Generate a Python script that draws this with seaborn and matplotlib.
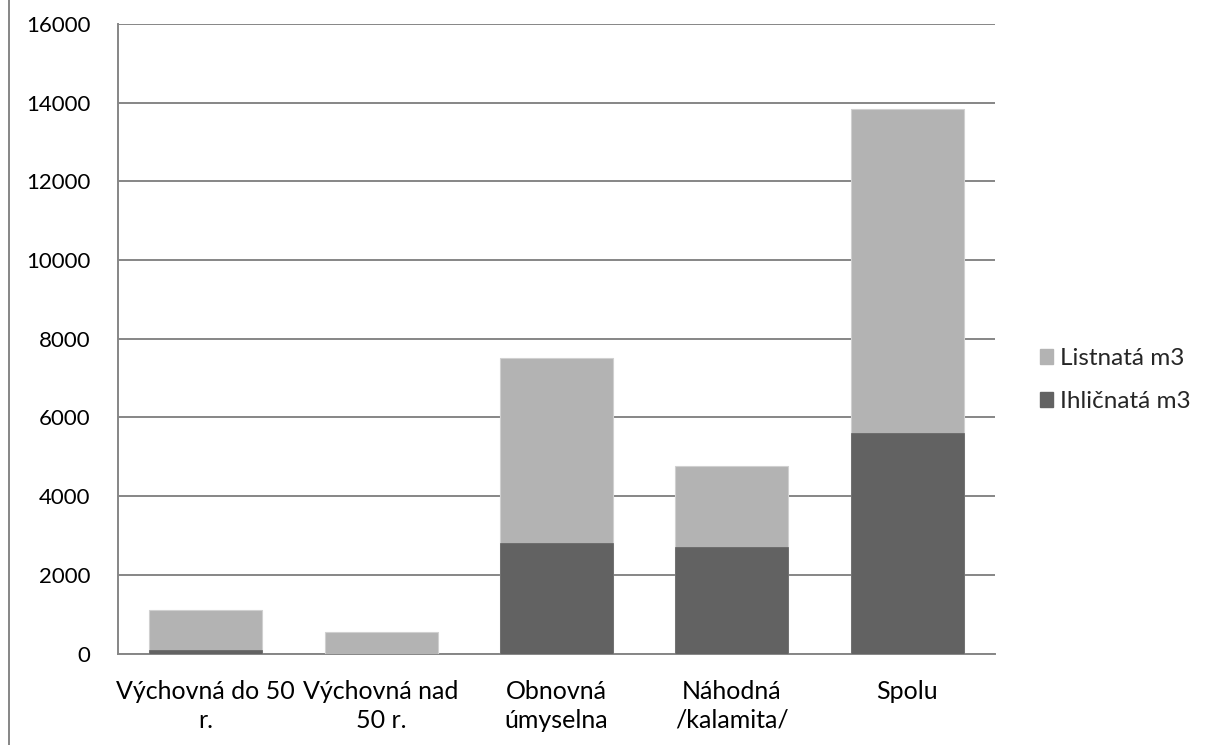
import pandas as pd
import matplotlib.pyplot as plt
import seaborn as sns
from matplotlib.lines import Line2D
from matplotlib.patches import Patch

categories = ['Výchovná do 50\nr.', 'Výchovná nad\n50 r.', 'Obnovná\númyselna', 'Náhodná\n/kalamita/', 'Spolu']
ihlicnata = [95, 0, 2810, 2710, 5610]
listnata = [1010, 550, 4690, 2050, 8230]

df = pd.DataFrame({'cat': categories, 'ihl': ihlicnata, 'list': listnata})
df['total'] = df['ihl'] + df['list']

light = '#b3b3b3'
dark = '#626262'
grid = '#868686'

sns.set_style('white')
plt.rcParams['font.family'] = ['Lato', 'DejaVu Sans']

fig = plt.figure(figsize=(12.05, 7.45), dpi=100)
ax = fig.add_axes([0.098, 0.1228, 0.7277, 0.845])

# totals in light grey, conifers over them from zero
sns.barplot(data=df, x='cat', y='total', color=light, saturation=1, width=0.645,
            edgecolor='#d0d0d0', linewidth=0.8, ax=ax, zorder=3)
sns.barplot(data=df, x='cat', y='ihl', color=dark, saturation=1, width=0.645,
            edgecolor=dark, linewidth=0.5, ax=ax, zorder=4)

ax.set_ylim(0, 16000)
ax.set_yticks(range(0, 16001, 2000))
ax.set_xlim(-0.5, len(categories) - 0.5)
ax.yaxis.grid(True, color=grid, linewidth=1.4, zorder=0)
ax.set_axisbelow(True)
for s in ['top', 'right']:
    ax.spines[s].set_visible(False)
for s in ['left', 'bottom']:
    ax.spines[s].set_color(grid)
    ax.spines[s].set_linewidth(1.4)
ax.tick_params(axis='both', length=0, colors='black')
ax.tick_params(axis='y', pad=20, labelsize=16)
ax.tick_params(axis='x', pad=19, labelsize=18)
ax.set_xlabel('')
ax.set_ylabel('')
for t in ax.get_xticklabels():
    t.set_linespacing(1.3)

handles = [Patch(color=light, label='Listnatá m3'), Patch(color=dark, label='Ihličnatá m3')]
fig.legend(handles=handles, loc='center left', bbox_to_anchor=(0.845, 0.49), frameon=False,
           fontsize=17.5, handlelength=0.55, handleheight=0.55, handletextpad=0.25, labelspacing=0.9)

fig.add_artist(Line2D([0.0075, 0.0075], [0, 1], color=grid, linewidth=1.4))

fig.savefig('out.png', dpi=100)
